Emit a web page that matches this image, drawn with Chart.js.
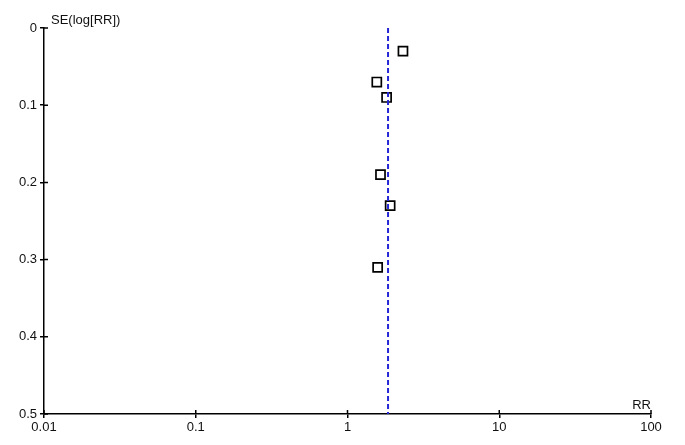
<!DOCTYPE html>
<html>
<head>
<meta charset="utf-8">
<script src="https://cdn.jsdelivr.net/npm/chart.js@4/dist/chart.umd.min.js"></script>
<style>
  html, body { margin: 0; padding: 0; background: #fff; }
  #wrap { width: 685px; height: 445px; }
</style>
</head>
<body>
<div id="wrap"><canvas id="chart_funnel" width="685" height="445"></canvas></div>
<script>
// estudios: RR y error estandar de log(RR)
const estudiosRR = [2.32, 1.56, 1.81, 1.65, 1.91, 1.58];
const estudiosSE = [0.03, 0.07, 0.09, 0.19, 0.23, 0.31];
// estimacion combinada (linea vertical)
const pooledRR = 1.85;
const pooledSE = [0, 0.5];
// ticks de los ejes
const xTicks = [0.01, 0.1, 1, 10, 100];
const xTickLabels = ['0.01', '0.1', '1', '10', '100'];
const yTicks = [0, 0.1, 0.2, 0.3, 0.4, 0.5];
const yTickLabels = ['0', '0.1', '0.2', '0.3', '0.4', '0.5'];

const FONT = "'Liberation Sans', Arial, sans-serif";
const TXT = '#111';

const puntos = estudiosRR.map((rr, i) => ({ x: rr, y: estudiosSE[i] }));
const lineaPooled = pooledSE.map(se => ({ x: pooledRR, y: se }));

// marcas hacia dentro + titulos de ejes
const extrasPlugin = {
    id: 'extras',
    afterDraw(chart) {
        const ctx = chart.ctx;
        const xs = chart.scales.x;
        const ys = chart.scales.y;
        const area = chart.chartArea;
        ctx.save();
        ctx.strokeStyle = '#000';
        ctx.lineWidth = 1.5;
        ctx.beginPath();
        yTicks.forEach(v => {
            const py = ys.getPixelForValue(v);
            ctx.moveTo(area.left, py);
            ctx.lineTo(area.left + 4, py);
        });
        xTicks.forEach(v => {
            const px = xs.getPixelForValue(v);
            ctx.moveTo(px, area.bottom);
            ctx.lineTo(px, area.bottom - 4);
        });
        ctx.stroke();

        ctx.fillStyle = TXT;
        ctx.font = '13px ' + FONT;
        ctx.textAlign = 'left';
        ctx.textBaseline = 'alphabetic';
        ctx.fillText('SE(log[RR])', area.left + 7, 24);
        ctx.font = '13px ' + FONT;
        ctx.textAlign = 'right';
        ctx.fillText('RR', area.right, area.bottom - 5);
        ctx.restore();
    }
};

const ctx = document.getElementById('chart_funnel').getContext('2d');
new Chart(ctx, {
    type: 'scatter',
    data: {
        datasets: [
            {
                type: 'line',
                data: lineaPooled,
                borderColor: '#2626d6',
                borderWidth: 2,
                borderDash: [5, 3],
                pointRadius: 0,
                fill: false
            },
            {
                data: puntos,
                pointStyle: 'rect',
                pointRadius: 6.4,
                pointBorderWidth: 1.7,
                pointBorderColor: '#000',
                pointBackgroundColor: '#fff'
            }
        ]
    },
    plugins: [extrasPlugin],
    options: {
        responsive: false,
        animation: false,
        devicePixelRatio: 1,
        layout: { padding: { top: 28, right: 34, left: 0, bottom: 0 } },
        plugins: {
            legend: { display: false },
            tooltip: { enabled: false }
        },
        scales: {
            x: {
                type: 'logarithmic',
                min: 0.01,
                max: 100,
                afterBuildTicks: s => { s.ticks = xTicks.map(v => ({ value: v })); },
                afterFit: s => { s.height = 31; },
                grid: { drawOnChartArea: false, tickLength: 4, color: '#000', lineWidth: 1.5 },
                border: { color: '#000', width: 1.5 },
                ticks: {
                    autoSkip: false,
                    maxRotation: 0,
                    padding: 2,
                    color: TXT,
                    font: { family: FONT, size: 13 },
                    callback: (v) => {
                        const i = xTicks.indexOf(v);
                        return i >= 0 ? xTickLabels[i] : '';
                    }
                }
            },
            y: {
                min: 0,
                max: 0.5,
                reverse: true,
                afterBuildTicks: s => { s.ticks = yTicks.map(v => ({ value: v })); },
                afterFit: s => { s.width = 44; },
                grid: { drawOnChartArea: false, tickLength: 4, color: '#000', lineWidth: 1.5 },
                border: { color: '#000', width: 1.5 },
                ticks: {
                    autoSkip: false,
                    padding: 3,
                    color: TXT,
                    font: { family: FONT, size: 13 },
                    callback: (v) => {
                        const i = yTicks.findIndex(t => Math.abs(t - v) < 1e-9);
                        return i >= 0 ? yTickLabels[i] : '';
                    }
                }
            }
        }
    }
});
</script>
</body>
</html>
